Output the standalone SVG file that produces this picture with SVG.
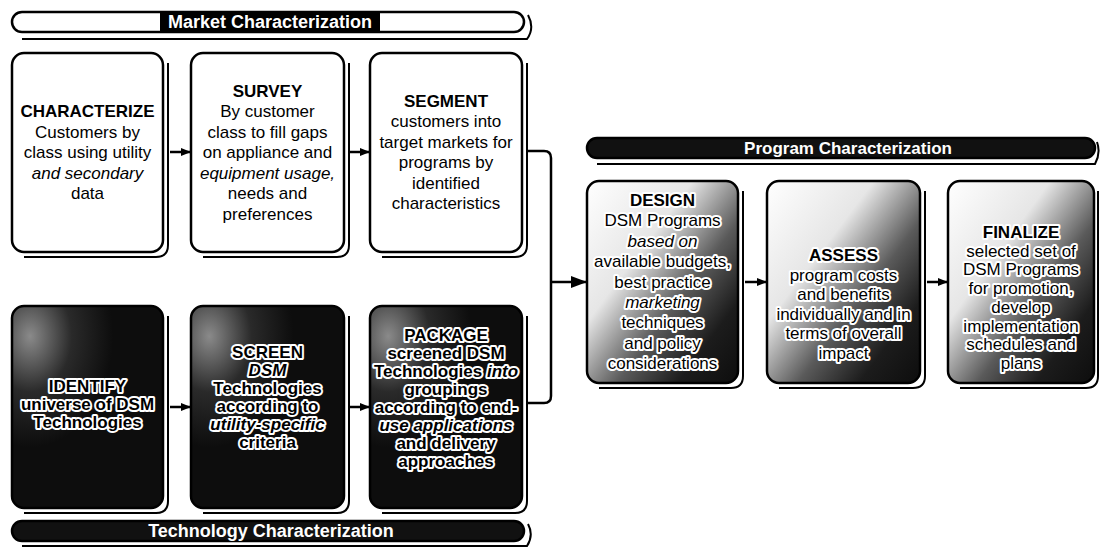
<svg xmlns="http://www.w3.org/2000/svg" width="1101" height="551" viewBox="0 0 1101 551">
<style>
.box{fill:#fff;stroke:#000;stroke-width:2.5}
.dark{fill:url(#tg);stroke:#000;stroke-width:2.5}
.prog{fill:url(#pg);stroke:#000;stroke-width:2.5}
.sh{fill:none;stroke:#000;stroke-width:2}
.t{font-family:"Liberation Sans",Arial,Helvetica,sans-serif;font-size:17px;text-anchor:middle;fill:#000}
.h{font-weight:bold}
.i{font-style:italic}
.b{font-weight:bold}
.halo{fill:#000;stroke:#fff;stroke-width:4;paint-order:stroke;stroke-linejoin:round}
.ttl{font-family:"Liberation Sans",Arial,Helvetica,sans-serif;font-weight:bold;text-anchor:middle;fill:#fff}
.ln{fill:none;stroke:#000;stroke-width:2.5}
</style>
<defs>
<marker id="ah" markerWidth="10" markerHeight="10" refX="9" refY="5" orient="auto" markerUnits="userSpaceOnUse"><path d="M0,1 L10,5 L0,9 z" fill="#000"/></marker>
<marker id="ahb" markerWidth="16" markerHeight="14" refX="15" refY="7" orient="auto" markerUnits="userSpaceOnUse"><path d="M0,1 L16,7 L0,13 z" fill="#000"/></marker>
<radialGradient id="tg" cx="0.12" cy="0.15" r="0.55"><stop offset="0" stop-color="#8a8a8a"/><stop offset="0.5" stop-color="#2a2a2a"/><stop offset="1" stop-color="#0d0d0d"/></radialGradient>
<linearGradient id="pg" x1="0" y1="0" x2="1" y2="1"><stop offset="0" stop-color="#fff"/><stop offset="0.35" stop-color="#e6e6e6"/><stop offset="0.6" stop-color="#5a5a5a"/><stop offset="0.8" stop-color="#1c1c1c"/><stop offset="1" stop-color="#0d0d0d"/></linearGradient>
</defs>

<g id="market-banner">
<rect x="12" y="12" width="512" height="20" rx="10" fill="#fff" stroke="#000" stroke-width="2.5"/>
<path class="sh" d="M528,15 Q535,28 527,39 H22"/>
<rect x="160" y="13" width="220" height="18" fill="#000"/>
<text class="ttl" x="270" y="28" font-size="18">Market Characterization</text>
</g>

<g id="characterize">
<rect class="box" x="12" y="53" width="151" height="199" rx="12"/>
<path class="sh" d="M168,63 V245 Q168,257 156,257 H24"/>
<text class="t"><tspan class="h" x="87.5" y="117">CHARACTERIZE</tspan><tspan x="87.5" y="137.5">Customers by</tspan><tspan x="87.5" y="158">class using utility</tspan><tspan class="i" x="87.5" y="178.5">and secondary</tspan><tspan x="87.5" y="199">data</tspan></text>
</g>

<g id="survey">
<rect class="box" x="191" y="53" width="153" height="199" rx="12"/>
<path class="sh" d="M349,63 V245 Q349,257 337,257 H203"/>
<text class="t"><tspan class="h" x="267.5" y="96.5">SURVEY</tspan><tspan x="267.5" y="117">By customer</tspan><tspan x="267.5" y="137.5">class to fill gaps</tspan><tspan x="267.5" y="158">on appliance and</tspan><tspan class="i" x="267.5" y="178.5">equipment usage,</tspan><tspan x="267.5" y="199">needs and</tspan><tspan x="267.5" y="219.5">preferences</tspan></text>
</g>

<g id="segment">
<rect class="box" x="370" y="53" width="152" height="199" rx="12"/>
<path class="sh" d="M527,63 V245 Q527,257 515,257 H382"/>
<text class="t"><tspan class="h" x="446" y="106.5">SEGMENT</tspan><tspan x="446" y="127">customers into</tspan><tspan x="446" y="147.5">target markets for</tspan><tspan x="446" y="168">programs by</tspan><tspan x="446" y="188.5">identified</tspan><tspan x="446" y="209">characteristics</tspan></text>
</g>

<g id="identify">
<rect class="dark" x="12" y="306" width="151" height="202" rx="12"/>
<path class="sh" d="M168,316 V501 Q168,513 156,513 H24"/>
<text class="t b halo"><tspan x="87.5" y="392">IDENTIFY</tspan><tspan x="87.5" y="410">universe of DSM</tspan><tspan x="87.5" y="428">Technologies</tspan></text>
</g>

<g id="screen">
<rect class="dark" x="191" y="306" width="153" height="202" rx="12"/>
<path class="sh" d="M349,316 V501 Q349,513 337,513 H203"/>
<text class="t b halo"><tspan x="267.5" y="358">SCREEN</tspan><tspan class="i" x="267.5" y="376">DSM</tspan><tspan x="267.5" y="394">Technologies</tspan><tspan x="267.5" y="412">according to</tspan><tspan class="i" x="267.5" y="430">utility-specific</tspan><tspan x="267.5" y="448">criteria</tspan></text>
</g>

<g id="package">
<rect class="dark" x="370" y="306" width="152" height="202" rx="12"/>
<path class="sh" d="M527,316 V501 Q527,513 515,513 H382"/>
<text class="t b halo"><tspan x="446" y="341">PACKAGE</tspan><tspan x="446" y="359">screened DSM</tspan><tspan x="446" y="377">Technologies <tspan class="i">into</tspan></tspan><tspan x="446" y="395">groupings</tspan><tspan x="446" y="413">according to end-</tspan><tspan class="i" x="446" y="431">use applications</tspan><tspan x="446" y="449">and delivery</tspan><tspan x="446" y="467">approaches</tspan></text>
</g>

<g id="technology-banner">
<rect x="12" y="521" width="512" height="20" rx="10" fill="#111" stroke="#000" stroke-width="2.5"/>
<path class="sh" d="M528,524 Q534,535 527,546 H22"/>
<text class="ttl" x="271" y="537" font-size="18">Technology Characterization</text>
</g>

<g id="program-banner">
<rect x="587" y="138" width="508" height="20" rx="10" fill="#111" stroke="#000" stroke-width="2.5"/>
<path class="sh" d="M1097,142 Q1101,153 1095,164 H597"/>
<text class="ttl" x="848" y="154" font-size="17">Program Characterization</text>
</g>

<g id="design">
<rect class="prog" x="587" y="181" width="151" height="202" rx="12"/>
<path class="sh" d="M743,191 V376 Q743,388 731,388 H599"/>
<text class="t halo"><tspan class="h" x="662.5" y="206">DESIGN</tspan><tspan x="662.5" y="226.4">DSM Programs</tspan><tspan class="i" x="662.5" y="246.8">based on</tspan><tspan x="662.5" y="267.2">available budgets,</tspan><tspan x="662.5" y="287.6">best practice</tspan><tspan class="i" x="662.5" y="308">marketing</tspan><tspan x="662.5" y="328.4">techniques</tspan><tspan x="662.5" y="348.8">and policy</tspan><tspan x="662.5" y="369.2">considerations</tspan></text>
</g>

<g id="assess">
<rect class="prog" x="767" y="181" width="153" height="202" rx="12"/>
<path class="sh" d="M925,191 V376 Q925,388 913,388 H779"/>
<text class="t halo"><tspan class="h" x="843.5" y="261">ASSESS</tspan><tspan x="843.5" y="280.5">program costs</tspan><tspan x="843.5" y="300">and benefits</tspan><tspan x="843.5" y="319.5">individually and in</tspan><tspan x="843.5" y="339">terms of overall</tspan><tspan x="843.5" y="358.5">impact</tspan></text>
</g>

<g id="finalize">
<rect class="prog" x="948" y="181" width="146" height="202" rx="12"/>
<path class="sh" d="M1098,191 V376 Q1098,388 1086,388 H960"/>
<text class="t halo"><tspan class="h" x="1021" y="238">FINALIZE</tspan><tspan x="1021" y="256.7">selected set of</tspan><tspan x="1021" y="275.4">DSM Programs</tspan><tspan x="1021" y="294.1">for promotion,</tspan><tspan x="1021" y="312.8">develop</tspan><tspan x="1021" y="331.5">implementation</tspan><tspan x="1021" y="350.2">schedules and</tspan><tspan x="1021" y="368.9">plans</tspan></text>
</g>

<g id="connectors">
<line class="ln" x1="170" y1="152" x2="190" y2="152" marker-end="url(#ah)"/>
<line class="ln" x1="350" y1="152" x2="369" y2="152" marker-end="url(#ah)"/>
<line class="ln" x1="170" y1="407" x2="190" y2="407" marker-end="url(#ah)"/>
<line class="ln" x1="350" y1="407" x2="369" y2="407" marker-end="url(#ah)"/>
<path class="ln" d="M528,151 H544 Q551,151 551,158 V396 Q551,403 544,403 H528"/>
<line class="ln" x1="551" y1="282" x2="586" y2="282" marker-end="url(#ahb)"/>
<line class="ln" x1="745" y1="282" x2="766" y2="282" marker-end="url(#ah)"/>
<line class="ln" x1="927" y1="282" x2="947" y2="282" marker-end="url(#ah)"/>
</g>
</svg>
